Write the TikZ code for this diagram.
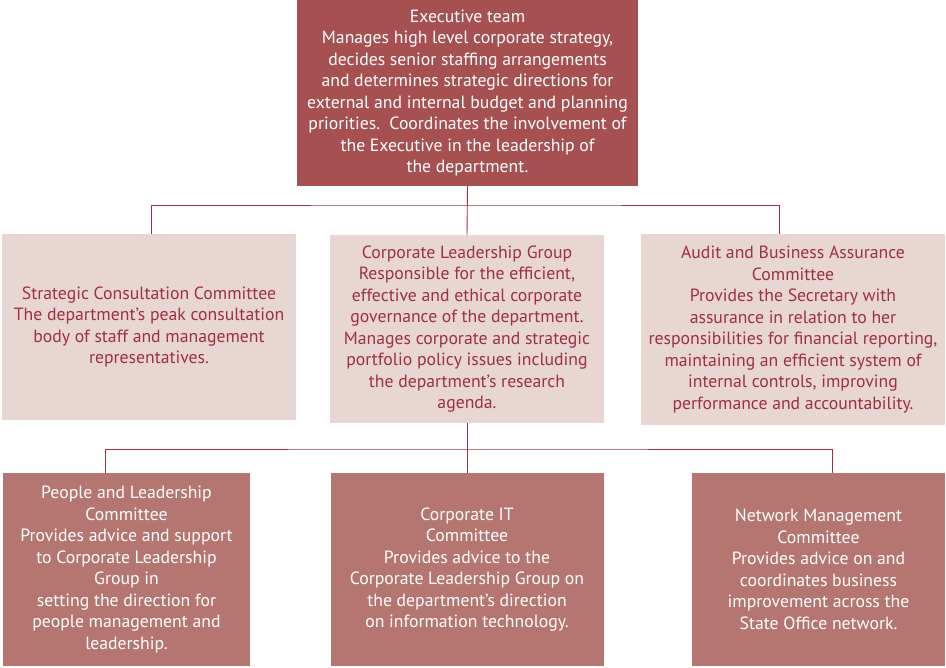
\documentclass[tikz,border=0pt]{standalone}
\usepackage{fontspec}
\setmainfont{PT Sans}
\usetikzlibrary{positioning}

\definecolor{execred}{RGB}{166,80,82}
\definecolor{lightpink}{RGB}{232,214,210}
\definecolor{midred}{RGB}{181,117,112}
\definecolor{wine}{RGB}{158,48,64}

\tikzset{
  box/.style={rectangle, align=center, inner sep=0pt,
    font=\fontsize{17.7}{21.5}\selectfont},
  darkbox/.style={box, fill=execred, text=white},
  lightbox/.style={box, fill=lightpink, text=wine},
  midbox/.style={box, fill=midred, text=white},
  link/.style={draw=wine, line width=0.9pt}
}

\begin{document}
\begin{tikzpicture}[x=1pt, y=-1pt]
\useasboundingbox (0,0) rectangle (946,668);

% top level
\node[darkbox, minimum width=341pt, minimum height=186pt] (exec) at (467.5,93) {Executive team\\
Manages high level corporate strategy,\\
decides senior staffing arrangements\\
and determines strategic directions for\\
external and internal budget and planning\\
priorities.\ \ Coordinates the involvement of\\
the Executive in the leadership of\\
the department.};

% second level
\node[lightbox, minimum width=294pt, minimum height=186pt] (scc) at (149,327) {Strategic Consultation Committee\\
The department's peak consultation\\
body of staff and management\\
representatives.};
\node[lightbox, minimum width=274pt, minimum height=188pt] (clg) at (467,329) {Corporate Leadership Group\\
Responsible for the efficient,\\
effective and ethical corporate\\
governance of the department.\\
Manages corporate and strategic\\
portfolio policy issues including\\
the department's research\\
agenda.};
\node[lightbox, minimum width=304pt, minimum height=191pt] (abac) at (793,329.5) {Audit and Business Assurance\\
Committee\\
Provides the Secretary with\\
assurance in relation to her\\
responsibilities for financial reporting,\\
maintaining an efficient system of\\
internal controls, improving\\
performance and accountability.};

% third level
\node[midbox, minimum width=247pt, minimum height=193pt] (plc) at (126.5,569.5) {People and Leadership\\
Committee\\
Provides advice and support\\
to Corporate Leadership\\
Group in\\
setting the direction for\\
people management and\\
leadership.};
\node[midbox, minimum width=273pt, minimum height=193pt] (cit) at (467,569.5) {Corporate IT\\
Committee\\
Provides advice to the\\
Corporate Leadership Group on\\
the department's direction\\
on information technology.};
\node[midbox, minimum width=253pt, minimum height=193pt] (nmc) at (818.5,569.5) {Network Management\\
Committee\\
Provides advice on and\\
coordinates business\\
improvement across the\\
State Office network.};

% connectors
\coordinate (bus1) at (467,205);
\coordinate (bus2) at (467,449);
\draw[link] (exec.south) -- (clg.north);
\draw[link] ([xshift=2pt]scc.north) |- (bus1) -| ([xshift=-14pt]abac.north);
\draw[link] (clg.south) -- (cit.north);
\draw[link] ([xshift=-21.5pt]plc.north) |- (bus2) -| ([xshift=13.5pt]nmc.north);
\end{tikzpicture}
\end{document}
